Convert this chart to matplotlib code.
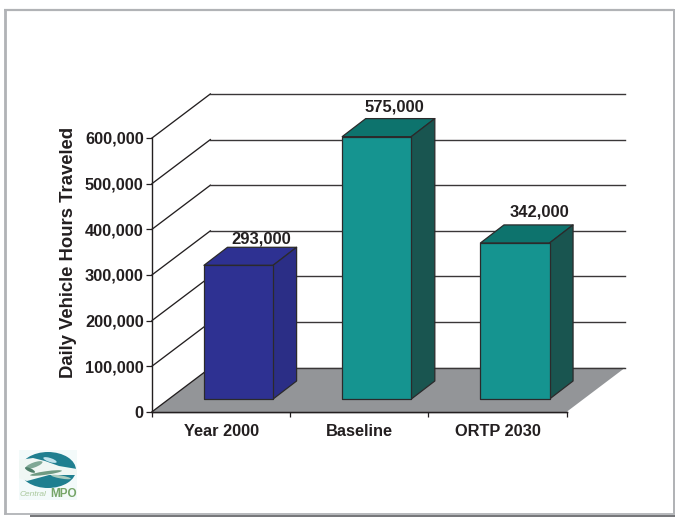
import matplotlib
matplotlib.use("Agg")
import matplotlib.pyplot as plt
from matplotlib.patches import Polygon, Ellipse, Rectangle
from matplotlib.lines import Line2D
from matplotlib.ticker import FuncFormatter

categories = ["Year 2000", "Baseline", "ORTP 2030"]
values = [293000, 575000, 342000]
y_ticks = [0, 100000, 200000, 300000, 400000, 500000, 600000]
y_label = "Daily Vehicle Hours Traveled"

W, H = 675, 517
plt.rcParams["font.family"] = ["Liberation Sans", "DejaVu Sans"]
INK = "#231F20"

# Projection of the box: wall depth and bar placement, in category / value units
DEPTH_X = 0.422
DEPTH_Y = 96500
BAR_W = 0.50
BAR_LEFT = 0.376
BAR_DY = 28000
BAR_DEPTH_X = 0.170
BAR_DEPTH_Y = 39500

FRONT_FACE = {"Year 2000": "#2E3192", "Baseline": "#159490", "ORTP 2030": "#159490"}
TOP_FACE = {"Year 2000": "#2E3192", "Baseline": "#0D736D", "ORTP 2030": "#0D736D"}
SIDE_FACE = {"Year 2000": "#2B2E86", "Baseline": "#195550", "ORTP 2030": "#195550"}
# Value label nudges in points, from the centre of the bar's top face
LABEL_NUDGE = {"Year 2000": (16, 6), "Baseline": (12.6, 8), "ORTP 2030": (17.3, 9.5)}

fig = plt.figure(figsize=(W / 100, H / 100), dpi=100, facecolor="white")


def box(px_left, px_top, px_right, px_bottom):
    return [px_left / W, 1 - px_bottom / H, (px_right - px_left) / W, (px_bottom - px_top) / H]


# Slide border
for xs, ys, color, lw in [
    ((5.5, 5.5), (9, 514), "#B1B3B6", 2.8),
    ((4.3, 674), (10, 10), "#B1B3B6", 2.2),
    ((674, 674), (9, 514), "#B1B3B6", 2.0),
    ((4.3, 675), (513.8, 513.8), "#B1B3B6", 1.8),
    ((30, 675), (515.8, 515.8), "#77787B", 2.0),
]:
    fig.add_artist(Line2D([x / W for x in xs], [1 - y / H for y in ys],
                          color=color, lw=lw * 0.72, solid_capstyle="butt"))

ax = fig.add_axes(box(152, 138, 566.7, 411.8))
ax.set_xlim(0, 3)
ax.set_ylim(0, 600000)
ax.patch.set_visible(False)
n = len(categories)

# Floor
ax.add_patch(Polygon([(0, 0), (n, 0), (n + DEPTH_X, DEPTH_Y), (DEPTH_X, DEPTH_Y)],
                     closed=True, fc="#939598", ec="none", clip_on=False, zorder=1))

# Side-wall diagonals and back-wall gridlines
for tick in y_ticks:
    ax.plot([0, DEPTH_X], [tick, tick + DEPTH_Y], color=INK, lw=0.95, clip_on=False, zorder=2)
    ax.plot([DEPTH_X, n + DEPTH_X], [tick + DEPTH_Y] * 2, color="#3A3738", lw=1.0,
            clip_on=False, zorder=2)
ax.plot([0, n], [0, 0], color=INK, lw=1.0, clip_on=False, zorder=2)

# Bars as three visible faces
for i, (name, value) in enumerate(zip(categories, values)):
    x0 = i + BAR_LEFT
    x1 = x0 + BAR_W
    y0 = BAR_DY
    y1 = BAR_DY + value
    dx, dy = BAR_DEPTH_X, BAR_DEPTH_Y
    style = dict(closed=True, ec="#2B2A2B", lw=0.9, clip_on=False, zorder=3, joinstyle="round")
    ax.add_patch(Polygon([(x0, y1), (x1, y1), (x1 + dx, y1 + dy), (x0 + dx, y1 + dy)],
                         fc=TOP_FACE[name], **style))
    ax.add_patch(Polygon([(x1, y0), (x1 + dx, y0 + dy), (x1 + dx, y1 + dy), (x1, y1)],
                         fc=SIDE_FACE[name], **style))
    ax.add_patch(Polygon([(x0, y0), (x1, y0), (x1, y1), (x0, y1)],
                         fc=FRONT_FACE[name], **style))
    ax.annotate(f"{value:,}", (x0 + BAR_W / 2, y1 + dy), xytext=LABEL_NUDGE[name],
                textcoords="offset points", ha="center", va="center",
                fontsize=11.9, fontweight="bold", color=INK, annotation_clip=False, zorder=4)

# Axes
for side in ("top", "right"):
    ax.spines[side].set_visible(False)
for side in ("left", "bottom"):
    ax.spines[side].set_color(INK)
    ax.spines[side].set_linewidth(1.0)
    ax.spines[side].set_zorder(5)
ax.set_yticks(y_ticks)
ax.yaxis.set_major_formatter(FuncFormatter(lambda v, _: f"{int(v):,}"))
ax.set_xticks(range(n + 1))
ax.set_xticklabels([])
ax.set_xticks([i + 0.5 for i in range(n)], minor=True)
ax.set_xticklabels(categories, minor=True)
ax.tick_params(axis="y", length=4.2, width=0.9, color=INK, pad=1.8, labelsize=11.8, labelcolor=INK)
ax.tick_params(axis="x", which="major", length=3.8, width=0.9, color=INK)
ax.tick_params(axis="x", which="minor", length=0, pad=9, labelsize=11.8, labelcolor=INK)
for label in ax.get_yticklabels() + ax.get_xticklabels(minor=True):
    label.set_fontweight("bold")
ax.set_ylabel(y_label, fontsize=13.3, fontweight="bold", color=INK)
ax.yaxis.set_label_coords(-0.180, 0.583)

# Organisation logo
logo = fig.add_axes(box(19, 450, 77, 500))
logo.set_xlim(0, 58)
logo.set_ylim(50, 0)
logo.axis("off")
logo.add_patch(Rectangle((0, 0), 58, 50, fc="#F3FAFA", ec="none"))
logo.add_patch(Ellipse((29, 20), 56, 36, fc="#1F7F90", ec="none"))
logo.add_patch(Polygon([(0, 10), (14, 8), (26, 11), (40, 16), (58, 19), (58, 25), (30, 25), (8, 31), (0, 28)],
                       fc="#F0F7F4", ec="none"))
logo.add_patch(Ellipse((31, 10), 14, 4, angle=18, fc="#BFE3EC", ec="none"))
logo.add_patch(Ellipse((15, 15), 18, 5, angle=-20, fc="#7FA896", ec="none"))
logo.add_patch(Ellipse((27, 23), 32, 3.5, angle=-8, fc="#6F9A82", ec="none"))
logo.add_patch(Ellipse((11, 20), 11, 3.5, angle=25, fc="#4F7F6A", ec="none"))
logo.add_patch(Ellipse((42, 27), 20, 3, angle=10, fc="#A9CBBE", ec="none"))
logo.text(1, 44, "Central", fontsize=6, style="italic", color="#A9C79B", va="center")
logo.text(57.5, 44, "MPO", fontsize=8.5, fontweight="bold", color="#76A568", va="center", ha="right")

fig.savefig("out.png", dpi=100, facecolor="white")
